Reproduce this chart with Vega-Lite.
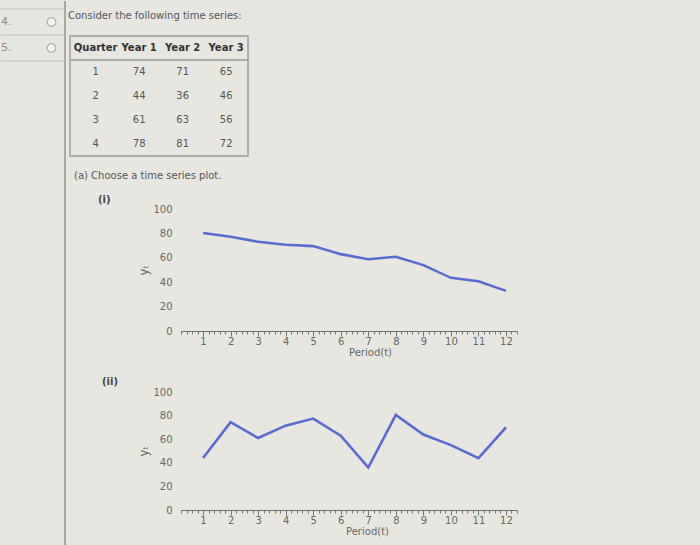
{
  "$schema": "https://vega.github.io/schema/vega-lite/v6.json",
  "background": "#e7e6e1",
  "padding": {"left": 0, "top": 0, "right": 200, "bottom": 0},
  "config": {"font": "DejaVu Sans", "view": {"stroke": null}},
  "datasets": {
    "side": [{"q": "4."}, {"q": "5."}],
    "head": [{"txt": "Consider the following time series:"}],
    "lab1": [{"label": "(i)"}],
    "lab2": [{"label": "(ii)"}],
    "table": [
      {"r": 0, "c": "Quarter", "t": "Quarter"}, {"r": 0, "c": "Year 1", "t": "Year 1"}, {"r": 0, "c": "Year 2", "t": "Year 2"}, {"r": 0, "c": "Year 3", "t": "Year 3"},
      {"r": 1, "c": "Quarter", "t": "1"}, {"r": 1, "c": "Year 1", "t": "74"}, {"r": 1, "c": "Year 2", "t": "71"}, {"r": 1, "c": "Year 3", "t": "65"},
      {"r": 2, "c": "Quarter", "t": "2"}, {"r": 2, "c": "Year 1", "t": "44"}, {"r": 2, "c": "Year 2", "t": "36"}, {"r": 2, "c": "Year 3", "t": "46"},
      {"r": 3, "c": "Quarter", "t": "3"}, {"r": 3, "c": "Year 1", "t": "61"}, {"r": 3, "c": "Year 2", "t": "63"}, {"r": 3, "c": "Year 3", "t": "56"},
      {"r": 4, "c": "Quarter", "t": "4"}, {"r": 4, "c": "Year 1", "t": "78"}, {"r": 4, "c": "Year 2", "t": "81"}, {"r": 4, "c": "Year 3", "t": "72"}
    ],
    "s1": [
      {"t": 1, "y": 80.3}, {"t": 2, "y": 77.2}, {"t": 3, "y": 73.2}, {"t": 4, "y": 70.7}, {"t": 5, "y": 69.6}, {"t": 6, "y": 63},
      {"t": 7, "y": 58.8}, {"t": 8, "y": 60.8}, {"t": 9, "y": 54}, {"t": 10, "y": 43.6}, {"t": 11, "y": 40.8}, {"t": 12, "y": 32.9}
    ],
    "s2": [
      {"t": 1, "y": 44}, {"t": 2, "y": 74.5}, {"t": 3, "y": 61}, {"t": 4, "y": 71.5}, {"t": 5, "y": 77.5}, {"t": 6, "y": 63},
      {"t": 7, "y": 36}, {"t": 8, "y": 80.5}, {"t": 9, "y": 64}, {"t": 10, "y": 55}, {"t": 11, "y": 44}, {"t": 12, "y": 70}
    ]
  },
  "spacing": 2,
  "hconcat": [
    {
      "width": 64,
      "height": 545,
      "data": {"name": "side"},
      "layer": [
        {
          "mark": {"type": "rule", "color": "#c2c2be", "strokeWidth": 1},
          "encoding": {"y": {"field": "q", "type": "ordinal", "bandPosition": 0, "scale": {"type": "band", "domain": ["4.", "5."], "range": [8, 60], "paddingInner": 0, "paddingOuter": 0}, "axis": null}}
        },
        {
          "transform": [{"filter": "datum.q === '5.'"}],
          "mark": {"type": "rule", "color": "#c2c2be", "strokeWidth": 1},
          "encoding": {"y": {"field": "q", "type": "ordinal", "bandPosition": 1, "axis": null}}
        },
        {
          "mark": {"type": "text", "align": "left", "baseline": "middle", "fontSize": 11, "color": "#8d8d8a"},
          "encoding": {
            "y": {"field": "q", "type": "ordinal", "axis": null},
            "x": {"datum": 0, "type": "quantitative", "scale": {"domain": [0, 64], "nice": false, "zero": false}, "axis": null},
            "text": {"field": "q"}
          }
        },
        {
          "mark": {"type": "point", "filled": true, "fill": "#f3f3f1", "stroke": "#b3b3b0", "strokeWidth": 1.3, "size": 75, "opacity": 1},
          "encoding": {
            "y": {"field": "q", "type": "ordinal", "axis": null},
            "x": {"datum": 50.5, "type": "quantitative", "axis": null}
          }
        },
        {
          "mark": {"type": "rule", "color": "#a3a3a0", "strokeWidth": 1.5},
          "encoding": {"x": {"datum": 64, "type": "quantitative", "axis": null}}
        }
      ]
    },
    {
      "spacing": 4,
      "vconcat": [
        {
          "width": 178,
          "height": 30,
          "data": {"name": "head"},
          "mark": {"type": "text", "align": "left", "baseline": "middle", "fontSize": 10, "color": "#555555", "dx": -2},
          "encoding": {
            "x": {"datum": 0, "type": "quantitative", "scale": {"domain": [0, 1], "nice": false, "zero": false}, "axis": null},
            "text": {"field": "txt"}
          }
        },
        {
          "spacing": 14,
          "vconcat": [
            {
              "width": 178,
              "height": 120,
              "view": {"stroke": "#9d9d9a", "strokeWidth": 1.5},
              "data": {"name": "table"},
              "layer": [
                {
                  "transform": [{"filter": "datum.r === 1 && datum.c === 'Quarter'"}],
                  "mark": {"type": "rule", "color": "#9d9d9a", "strokeWidth": 1.5},
                  "encoding": {"y": {"field": "r", "type": "ordinal", "bandPosition": 0, "scale": {"type": "band", "domain": [0, 1, 2, 3, 4], "paddingInner": 0, "paddingOuter": 0}, "axis": null}}
                },
                {
                  "transform": [{"filter": "datum.r === 0"}],
                  "mark": {"type": "text", "fontSize": 10, "fontWeight": "bold", "color": "#333333"},
                  "encoding": {
                    "x": {"field": "c", "type": "nominal", "scale": {"type": "point", "domain": ["Quarter", "Year 1", "Year 2", "Year 3"], "padding": 0.546, "align": 0.54}, "axis": null},
                    "y": {"field": "r", "type": "ordinal", "axis": null},
                    "text": {"field": "t"}
                  }
                },
                {
                  "transform": [{"filter": "datum.r > 0"}],
                  "mark": {"type": "text", "fontSize": 10, "color": "#555555"},
                  "encoding": {
                    "x": {"field": "c", "type": "nominal", "axis": null},
                    "y": {"field": "r", "type": "ordinal", "axis": null},
                    "text": {"field": "t"}
                  }
                }
              ]
            },
            {
              "spacing": 20,
              "vconcat": [
                {
                  "bounds": "flush",
                  "spacing": 0,
                  "hconcat": [
                    {
                      "width": 111,
                      "height": 122,
                      "data": {"name": "lab1"},
                      "title": {"text": "(a) Choose a time series plot.", "anchor": "start", "frame": "group", "dx": 4, "fontSize": 10, "fontWeight": "normal", "color": "#555555", "offset": 14},
                      "mark": {"type": "text", "align": "left", "baseline": "bottom", "fontSize": 10, "fontWeight": "bold", "color": "#444444", "dy": -4},
                      "encoding": {
                        "x": {"datum": 28, "type": "quantitative", "scale": {"domain": [0, 111], "nice": false, "zero": false}, "axis": null},
                        "y": {"datum": 100, "type": "quantitative", "scale": {"domain": [0, 100], "nice": false}, "axis": null},
                        "text": {"field": "label"}
                      }
                    },
                    {
                      "width": 336,
                      "height": 122,
                      "data": {"name": "s1"},
                      "mark": {"type": "line", "color": "#5a6ad3", "strokeWidth": 2.6},
                      "encoding": {
                        "x": {"field": "t", "type": "quantitative", "scale": {"domain": [0.2, 12.4], "nice": false, "zero": false},
                          "axis": {"title": "Period(t)", "values": [0.2,0.4,0.6,0.8,1,1.2,1.4,1.6,1.8,2,2.2,2.4,2.6,2.8,3,3.2,3.4,3.6,3.8,4,4.2,4.4,4.6,4.8,5,5.2,5.4,5.6,5.8,6,6.2,6.4,6.6,6.8,7,7.2,7.4,7.6,7.8,8,8.2,8.4,8.6,8.8,9,9.2,9.4,9.6,9.8,10,10.2,10.4,10.6,10.8,11,11.2,11.4,11.6,11.8,12,12.2,12.4],
                            "labelExpr": "abs(datum.value - round(datum.value)) < 0.001 ? format(datum.value, 'd') : ''",
                            "tickSize": {"condition": {"test": "abs(datum.value - round(datum.value)) < 0.001", "value": 5}, "value": 3},
                            "tickColor": "#757573", "domainColor": "#6f6f6d", "labelColor": "#666666", "labelFontSize": 10, "labelPadding": 0,
                            "labelOverlap": false, "labelFlush": false, "grid": false,
                            "titleFontSize": 10, "titleFontWeight": "normal", "titleColor": "#666666", "titlePadding": 1, "titleX": 189}},
                        "y": {"field": "y", "type": "quantitative", "scale": {"domain": [0, 100], "nice": false},
                          "axis": {"title": "y\u209c", "values": [0, 20, 40, 60, 80, 100], "domain": false, "ticks": false, "grid": false, "labelPadding": 9, "labelColor": "#666666", "labelFontSize": 10, "titleFontSize": 11.5, "titleFontWeight": "normal", "titleColor": "#666666", "titlePadding": 3}}
                      }
                    }
                  ]
                },
                {
                  "bounds": "flush",
                  "spacing": 0,
                  "hconcat": [
                    {
                      "width": 111,
                      "height": 118,
                      "data": {"name": "lab2"},
                      "mark": {"type": "text", "align": "left", "baseline": "bottom", "fontSize": 10, "fontWeight": "bold", "color": "#444444", "dy": -5},
                      "encoding": {
                        "x": {"datum": 32, "type": "quantitative", "scale": {"domain": [0, 111], "nice": false, "zero": false}, "axis": null},
                        "y": {"datum": 100, "type": "quantitative", "scale": {"domain": [0, 100], "nice": false}, "axis": null},
                        "text": {"field": "label"}
                      }
                    },
                    {
                      "width": 336,
                      "height": 118,
                      "data": {"name": "s2"},
                      "mark": {"type": "line", "color": "#5a6ad3", "strokeWidth": 2.6},
                      "encoding": {
                        "x": {"field": "t", "type": "quantitative", "scale": {"domain": [0.2, 12.4], "nice": false, "zero": false},
                          "axis": {"title": "Period(t)", "values": [0.2,0.4,0.6,0.8,1,1.2,1.4,1.6,1.8,2,2.2,2.4,2.6,2.8,3,3.2,3.4,3.6,3.8,4,4.2,4.4,4.6,4.8,5,5.2,5.4,5.6,5.8,6,6.2,6.4,6.6,6.8,7,7.2,7.4,7.6,7.8,8,8.2,8.4,8.6,8.8,9,9.2,9.4,9.6,9.8,10,10.2,10.4,10.6,10.8,11,11.2,11.4,11.6,11.8,12,12.2,12.4],
                            "labelExpr": "abs(datum.value - round(datum.value)) < 0.001 ? format(datum.value, 'd') : ''",
                            "tickSize": {"condition": {"test": "abs(datum.value - round(datum.value)) < 0.001", "value": 5}, "value": 3},
                            "tickColor": "#757573", "domainColor": "#6f6f6d", "labelColor": "#666666", "labelFontSize": 10, "labelPadding": 0,
                            "labelOverlap": false, "labelFlush": false, "grid": false,
                            "titleFontSize": 10, "titleFontWeight": "normal", "titleColor": "#666666", "titlePadding": 1, "titleX": 186}},
                        "y": {"field": "y", "type": "quantitative", "scale": {"domain": [0, 100], "nice": false},
                          "axis": {"title": "y\u209c", "values": [0, 20, 40, 60, 80, 100], "domain": false, "ticks": false, "grid": false, "labelPadding": 9, "labelColor": "#666666", "labelFontSize": 10, "titleFontSize": 11.5, "titleFontWeight": "normal", "titleColor": "#666666", "titlePadding": 3}}
                      }
                    }
                  ]
                }
              ]
            }
          ]
        }
      ]
    }
  ]
}
